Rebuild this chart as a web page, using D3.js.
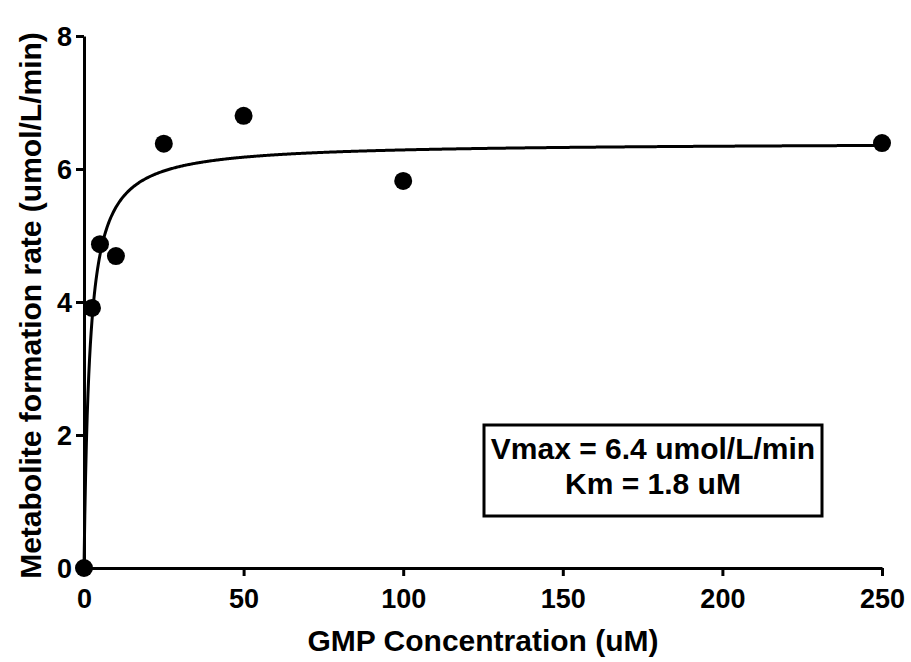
<!DOCTYPE html>
<html>
<head>
<meta charset="utf-8">
<script src="https://cdn.jsdelivr.net/npm/d3@7"></script>
<style>
  body { margin: 0; background: #fff; }
  text { font-family: "Liberation Sans", Arial, sans-serif; font-weight: bold; }
</style>
</head>
<body>
<div id="chart"></div>
<script>
// Data
var concentration = [0, 2.5, 5, 10, 25, 50, 100, 250];
var rate = [0, 3.91, 4.87, 4.69, 6.38, 6.80, 5.82, 6.39];
var xTicks = [0, 50, 100, 150, 200, 250];
var yTicks = [0, 2, 4, 6, 8];
// Fitted Michaelis-Menten parameters shown in the box
var vmax = 6.4, km = 1.8;

var margin = {top: 36, right: 29, bottom: 94, left: 84},
    width = 911 - margin.left - margin.right,
    height = 662 - margin.top - margin.bottom;

var svg = d3.select("#chart")
  .append("svg")
    .attr("width", 911)
    .attr("height", 662)
  .append("g")
    .attr("transform", `translate(${margin.left},${margin.top})`);

var x = d3.scaleLinear().domain([0, 250]).range([0, width]);
var y = d3.scaleLinear().domain([0, 8]).range([height, 0]);

// Axes
var xAxis = svg.append("g")
  .attr("transform", `translate(0,${height})`)
  .call(d3.axisBottom(x).tickValues(xTicks).tickSize(8).tickPadding(13).tickSizeOuter(0));
var yAxis = svg.append("g")
  .call(d3.axisLeft(y).tickValues(yTicks).tickSize(8).tickPadding(4).tickSizeOuter(0));

[xAxis, yAxis].forEach(a => {
  a.select(".domain").attr("stroke-width", 3).attr("stroke", "#000");
  a.selectAll(".tick line").attr("stroke-width", 3).attr("stroke", "#000");
  a.selectAll(".tick text").style("font-size", "27px").attr("fill", "#000");
});
yAxis.selectAll(".tick text").attr("dy", "0.36em");

// Fitted curve
var curveX = d3.range(0, 250.01, 0.25);
var line = d3.line()
  .x(d => x(d))
  .y(d => y(vmax * d / (km + d)));
svg.append("path")
  .datum(curveX)
  .attr("fill", "none")
  .attr("stroke", "#000")
  .attr("stroke-width", 3)
  .attr("d", line);

// Points
svg.selectAll(".dot")
  .data(concentration.map((c, i) => ({c: c, r: rate[i]})))
  .enter().append("circle")
    .attr("class", "dot")
    .attr("cx", d => x(d.c))
    .attr("cy", d => y(d.r))
    .attr("r", 9)
    .attr("fill", "#000");

// Axis titles
svg.append("text")
  .attr("x", width / 2)
  .attr("y", height + 83)
  .attr("text-anchor", "middle")
  .style("font-size", "30px")
  .text("GMP Concentration (uM)");

svg.append("text")
  .attr("transform", "rotate(-90)")
  .attr("x", -269.5)
  .attr("y", -margin.left + 41)
  .attr("text-anchor", "middle")
  .style("font-size", "30px")
  .text("Metabolite formation rate (umol/L/min)");

// Parameter box
var boxX = 484 - margin.left, boxY = 425 - margin.top;
svg.append("rect")
  .attr("x", boxX)
  .attr("y", boxY)
  .attr("width", 338)
  .attr("height", 91)
  .attr("fill", "#fff")
  .attr("stroke", "#000")
  .attr("stroke-width", 3);
svg.append("text")
  .attr("x", boxX + 169)
  .attr("y", boxY + 34)
  .attr("text-anchor", "middle")
  .style("font-size", "30px")
  .text("Vmax = 6.4 umol/L/min");
svg.append("text")
  .attr("x", boxX + 169)
  .attr("y", boxY + 69)
  .attr("text-anchor", "middle")
  .style("font-size", "30px")
  .text("Km = 1.8 uM");
</script>
</body>
</html>
